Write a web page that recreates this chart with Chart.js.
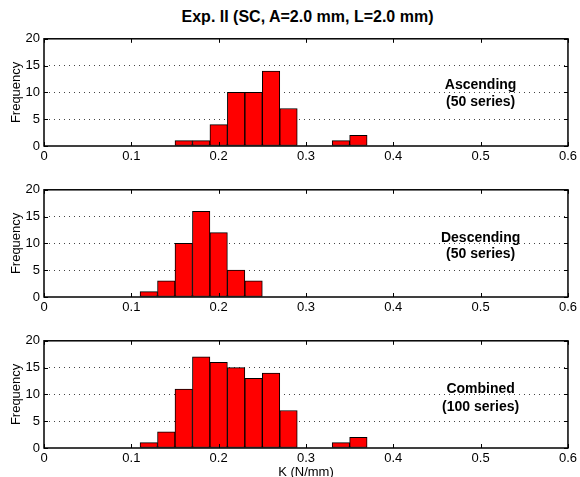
<!DOCTYPE html>
<html>
<head>
<meta charset="utf-8">
<script src="https://cdn.jsdelivr.net/npm/chart.js@4"></script>
<style>
  html, body { margin: 0; padding: 0; background: #fff; overflow: hidden; }
  body { width: 580px; height: 477px; position: relative; font-family: "Liberation Sans", Arial, sans-serif; }
  #title { position: absolute; left: 44px; width: 527px; top: 8px; line-height: 18px; text-align: center; font-weight: bold; font-size: 16px; }
  .panel { position: absolute; left: 0; width: 580px; }
</style>
</head>
<body>
<div id="title">Exp. II (SC, A=2.0 mm, L=2.0 mm)</div>
<div class="panel" style="top:27px;height:141px"><canvas id="c1"></canvas></div>
<div class="panel" style="top:178px;height:141px"><canvas id="c2"></canvas></div>
<div class="panel" style="top:329px;height:151px"><canvas id="c3"></canvas></div>
<script>
// bin centres (K, N/mm), width 0.02
const binCenters = [0.12, 0.14, 0.16, 0.18, 0.20, 0.22, 0.24, 0.26, 0.28, 0.30, 0.32, 0.34, 0.36];
const ascending  = [0, 0, 1, 1, 4, 10, 10, 14, 7, 0, 0, 1, 2];
const descending = [1, 3, 10, 16, 12, 5, 3, 0, 0, 0, 0, 0, 0];
const combined   = [1, 3, 11, 17, 16, 15, 13, 14, 7, 0, 0, 1, 2];
const xTicks = [0, 0.1, 0.2, 0.3, 0.4, 0.5, 0.6];
const yTicks = [0, 5, 10, 15, 20];

const FONT = "'Liberation Sans', Arial, sans-serif";

// box round the plot area, inward ticks and the label text
const boxPlugin = {
    id: 'box',
    afterDraw(chart, args, opts) {
        const ctx = chart.ctx;
        const a = chart.chartArea;
        const xs = chart.scales.x, ys = chart.scales.y;
        ctx.save();
        ctx.strokeStyle = '#000';
        ctx.lineWidth = 1;
        ctx.beginPath();
        xTicks.forEach(v => {
            const px = Math.round(xs.getPixelForValue(v)) + 0.5;
            ctx.moveTo(px, a.bottom); ctx.lineTo(px, a.bottom - 4);
            ctx.moveTo(px, a.top); ctx.lineTo(px, a.top + 4);
        });
        yTicks.forEach(v => {
            const py = Math.round(ys.getPixelForValue(v)) + 0.5;
            ctx.moveTo(a.left, py); ctx.lineTo(a.left + 4, py);
            ctx.moveTo(a.right, py); ctx.lineTo(a.right - 4, py);
        });
        ctx.stroke();
        ctx.lineWidth = 1.5;
        ctx.strokeRect(a.left, a.top, a.right - a.left, a.bottom - a.top);
        ctx.fillStyle = '#000';
        ctx.font = 'bold 14px ' + FONT;
        ctx.textAlign = 'center';
        ctx.textBaseline = 'middle';
        const cx = xs.getPixelForValue(0.5);
        ctx.fillText(opts.line1, cx, ys.getPixelForValue(opts.y1));
        ctx.fillText(opts.line2, cx, ys.getPixelForValue(opts.y2));
        ctx.restore();
    }
};

function makeChart(id, values, line1, line2, y1, y2, withXTitle) {
    const points = binCenters.map((x, i) => ({ x: x, y: values[i] }));
    return new Chart(document.getElementById(id), {
        type: 'bar',
        data: {
            datasets: [{
                data: points,
                backgroundColor: '#ff0000',
                borderColor: '#000000',
                borderWidth: 1,
                borderSkipped: false,
                barPercentage: 1,
                categoryPercentage: 1
            }]
        },
        options: {
            responsive: true,
            maintainAspectRatio: false,
            animation: false,
            layout: { padding: { top: 5, right: 9, left: 0, bottom: 0 } },
            plugins: {
                legend: { display: false },
                tooltip: { enabled: false },
                box: { line1: line1, line2: line2, y1: y1, y2: y2 }
            },
            scales: {
                x: {
                    type: 'linear',
                    min: 0, max: 0.6,
                    offset: false,
                    grid: { display: false, drawTicks: false },
                    border: { display: false },
                    afterBuildTicks: s => { s.ticks = xTicks.map(v => ({ value: v })); },
                    ticks: {
                        color: '#000', padding: 3,
                        font: { family: FONT, size: 13 },
                        maxRotation: 0,
                        callback: v => String(v)
                    },
                    title: {
                        display: withXTitle, text: 'K (N/mm)', color: '#000',
                        font: { family: FONT, size: 13 }, padding: { top: 0, bottom: 0 }
                    },
                    afterFit: s => { s.height = withXTitle ? 32 : 22; }
                },
                y: {
                    min: 0, max: 20,
                    grid: {
                        color: c => (c.tick.value > 0 && c.tick.value < 20) ? '#444' : 'rgba(0,0,0,0)',
                        lineWidth: 1,
                        drawTicks: false
                    },
                    border: { display: false, dash: [1, 4] },
                    afterBuildTicks: s => { s.ticks = yTicks.map(v => ({ value: v })); },
                    ticks: {
                        color: '#000', padding: 4,
                        font: { family: FONT, size: 13 }
                    },
                    title: {
                        display: true, text: 'Frequency', color: '#000',
                        font: { family: FONT, size: 13 }, padding: { top: 9, bottom: 0 }
                    },
                    afterFit: s => { s.width = 44; }
                }
            }
        },
        plugins: [boxPlugin]
    });
}

makeChart('c1', ascending, 'Ascending', '(50 series)', 11.4, 8.2, false);
makeChart('c2', descending, 'Descending', '(50 series)', 10.9, 8.0, false);
makeChart('c3', combined, 'Combined', '(100 series)', 10.9, 7.7, true);
</script>
</body>
</html>
